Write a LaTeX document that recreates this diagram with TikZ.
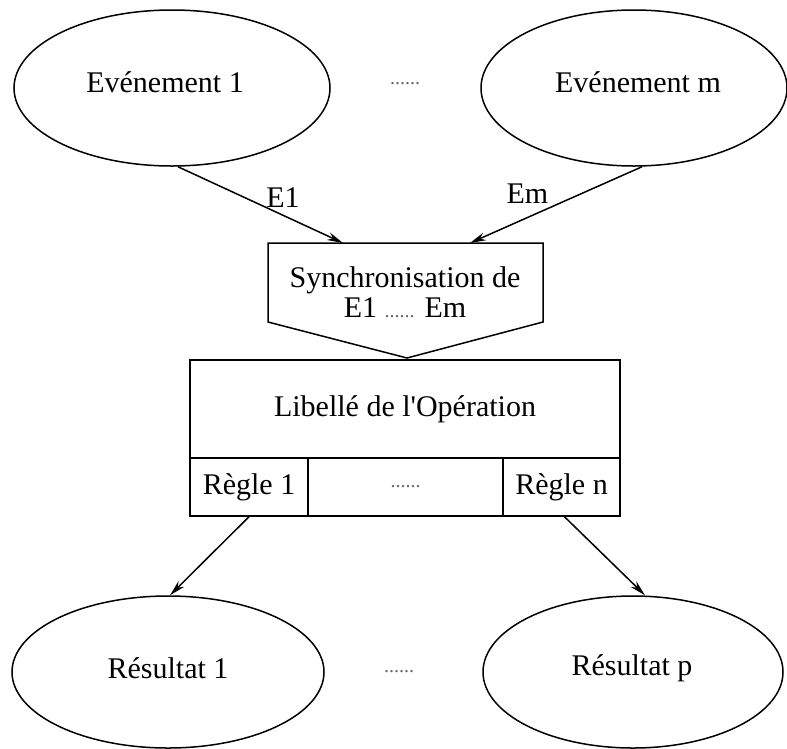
\documentclass[tikz,border=0pt]{standalone}
\usepackage{fontspec}
\setmainfont{Liberation Serif}
\usetikzlibrary{shapes.geometric,arrows.meta}
\begin{document}
\begin{tikzpicture}[x=1pt,y=-1pt,
  every node/.style={font=\fontsize{30}{33}\selectfont, inner sep=0pt},
  line/.style={line width=1.5pt},
  oval/.style={draw, line, ellipse},
  cell/.style={draw, line, rectangle},
  arr/.style={line, -{Stealth[length=16pt,width=8pt]}},
  dots/.style={text=black!60, font=\fontsize{20}{24}\selectfont}]
\useasboundingbox (0,0) rectangle (787,748);

% events
\node[oval, minimum width=316pt, minimum height=156pt] (ev1) at (172,88) {};
\node (ev1t) at (165,82) {Evénement 1};
\node[oval, minimum width=306pt, minimum height=156pt] (evm) at (634,88) {};
\node (evmt) at (638,82) {Evénement m};
\node[dots] (evdots) at (405,84) {......};

% synchronisation
\draw[line] (268,243) -- (543,243) -- (543,322) -- (407,358) -- (268,322) -- cycle;
\coordinate (syncA) at (343,243);
\coordinate (syncB) at (470,243);
\node[align=center] (sync) at (405,292) {Synchronisation de\\[-3pt]E1 {\color{black!60}\fontsize{20}{24}\selectfont......} Em};

% operation
\node[cell, minimum width=430pt, minimum height=98pt] (op) at (405,409) {Libellé de l\textquotesingle Opération};
\node[cell, minimum width=118pt, minimum height=58pt] (r1) at (249,487) {Règle 1};
\node[cell, minimum width=195pt, minimum height=58pt] (rdots) at (405.5,487) {\color{black!60}\fontsize{20}{24}\selectfont......};
\node[cell, minimum width=117pt, minimum height=58pt] (rn) at (561.5,487) {Règle n};

% results
\node[oval, minimum width=312pt, minimum height=152pt] (res1) at (168,672) {};
\node (res1t) at (168,668) {Résultat 1};
\node[oval, minimum width=300pt, minimum height=152pt] (resp) at (633,672) {};
\node (respt) at (632,668) {Résultat p};
\node[dots] (resdots) at (399,672) {......};

% connectors
\draw[arr] ([xshift=6pt]ev1.south) -- node[pos=0.6, xshift=6pt, yshift=15pt] (e1lab) {E1} (syncA);
\draw[arr] ([xshift=8pt]evm.south) -- node[pos=0.55, xshift=-20pt, yshift=15pt] (emlab) {Em} (syncB);
\draw[arr] (r1.south) -- ([xshift=2pt]res1.north);
\draw[arr] ([xshift=3pt]rn.south) -- ([xshift=12pt]resp.north);
\end{tikzpicture}
\end{document}
